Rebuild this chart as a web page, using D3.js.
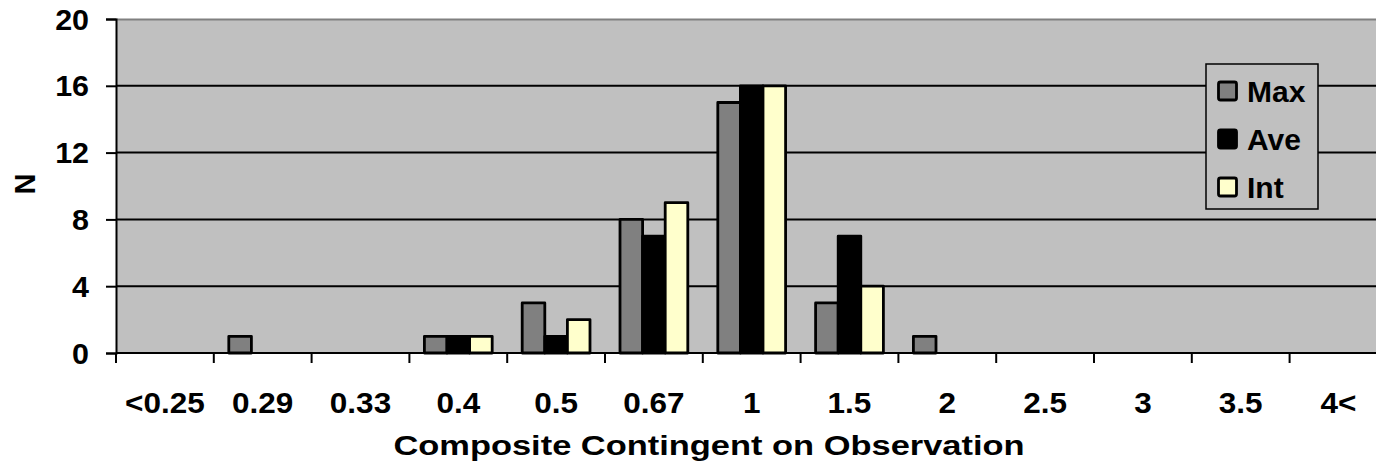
<!DOCTYPE html>
<html><head><meta charset="utf-8">
<script src="https://cdn.jsdelivr.net/npm/d3@7"></script>
<style>body{margin:0;background:#fff}svg{display:block}text{font-family:Arial,"Liberation Sans",sans-serif;font-weight:bold}</style>
</head><body><svg id="c" width="1376" height="467"></svg>
<script>
const categories = ["<0.25","0.29","0.33","0.4","0.5","0.67","1","1.5","2","2.5","3","3.5","4<"];
const seriesNames = ["Max","Ave","Int"];
const maxValues = [0,1,0,1,3,8,15,3,1,0,0,0,0];
const aveValues = [0,0,0,1,1,7,16,7,0,0,0,0,0];
const intValues = [0,0,0,1,2,9,16,4,0,0,0,0,0];
const yTicks = [0,4,8,12,16,20];
const colors = ["#808080","#000000","#FFFFCC"];

(function(){
const svg = d3.select("#c");
const pLeft = 116, pTop = 19, pBottom = 353;
const catW = 97.8;
const pRight = pLeft + catW * categories.length;
const FS = 30, SX = 1.05;
const x = d3.scaleBand().domain(categories).range([pLeft, pRight]).paddingInner(0).paddingOuter(0);
const y = d3.scaleLinear().domain([0,20]).range([pBottom, pTop]);
const x1 = d3.scaleBand().domain(seriesNames).range([0, x.bandwidth()]).paddingOuter(0.664).paddingInner(0);

svg.append("rect").attr("x", pLeft).attr("y", pTop).attr("width", pRight-pLeft).attr("height", pBottom-pTop).attr("fill","#C0C0C0");
svg.append("line").attr("x1",pLeft).attr("x2",pRight).attr("y1",pTop+0.5).attr("y2",pTop+0.5).attr("stroke","#808080").attr("stroke-width",2);

svg.append("g").selectAll("line").data(yTicks.filter(d=>d>0 && d<20)).join("line")
  .attr("x1",pLeft).attr("x2",pRight).attr("y1",d=>y(d)).attr("y2",d=>y(d)).attr("stroke","#000").attr("stroke-width",2);

const series = [maxValues, aveValues, intValues];
series.forEach((vals, si) => {
  svg.append("g").selectAll("rect").data(vals.map((v,i)=>({v, c:categories[i]})).filter(d=>d.v>0)).join("rect")
    .attr("x", d => x(d.c) + x1(seriesNames[si]))
    .attr("y", d => y(d.v))
    .attr("width", x1.bandwidth())
    .attr("height", d => y(0) - y(d.v))
    .attr("fill", colors[si]).attr("stroke","#000").attr("stroke-width",2.8).attr("stroke-linejoin","round");
});

const ya = svg.append("g").attr("transform",`translate(${pLeft},0)`).call(d3.axisLeft(y).tickValues(yTicks).tickSize(10).tickFormat(""));
ya.select(".domain").attr("stroke","#000").attr("stroke-width",2);
ya.selectAll(".tick line").attr("stroke","#000").attr("stroke-width",2);
svg.append("g").selectAll("text").data(yTicks).join("text")
  .attr("transform", d => `translate(${pLeft-27},${y(d)+10.5}) scale(${SX},1)`)
  .attr("text-anchor","end").attr("font-size",29).text(d=>d);

const xa = svg.append("g").attr("transform",`translate(0,${pBottom})`);
xa.append("line").attr("x1",pLeft).attr("x2",pRight).attr("stroke","#000").attr("stroke-width",2);
xa.selectAll(".tk").data(categories).join("line").attr("class","tk")
  .attr("x1",d=>x(d)).attr("x2",d=>x(d)).attr("y1",0).attr("y2",10).attr("stroke","#000").attr("stroke-width",2);
xa.selectAll("text").data(categories).join("text")
  .attr("transform", d => `translate(${x(d)+x.bandwidth()/2},60) scale(${SX},1)`)
  .attr("text-anchor","middle").attr("font-size",FS).text(d=>d);

svg.append("text").attr("transform",`translate(709,455) scale(1.23,1)`).attr("text-anchor","middle").attr("font-size",28)
  .text("Composite Contingent on Observation");
svg.append("text").attr("transform","translate(35,184) rotate(-90)").attr("text-anchor","middle").attr("font-size",29).text("N");

const lg = svg.append("g");
lg.append("rect").attr("x",1206).attr("y",64).attr("width",112).attr("height",145).attr("fill","#C0C0C0").attr("stroke","#000").attr("stroke-width",1.5);
seriesNames.forEach((n,i)=>{
  const base = 102 + i*48;
  lg.append("rect").attr("x",1218.5).attr("y",base-20).attr("width",18).attr("height",18).attr("fill",colors[i]).attr("stroke","#000").attr("stroke-width",2.8).attr("rx",2);
  lg.append("text").attr("x",1247).attr("y",base).attr("font-size",FS).text(n);
});
})();
</script></body></html>
